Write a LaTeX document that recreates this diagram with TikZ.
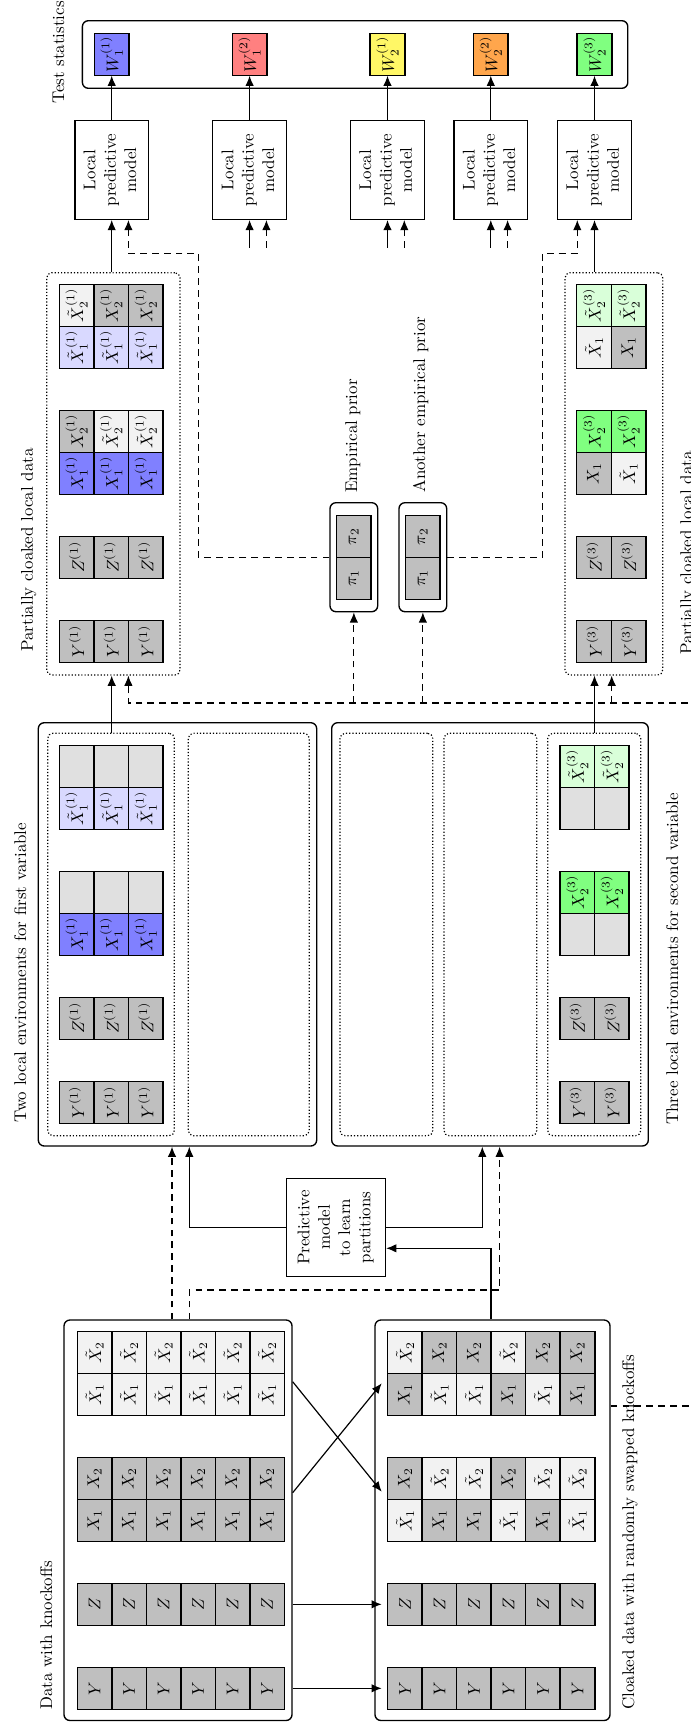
\documentclass[tikz,border=0pt]{standalone}
\usepackage{graphicx}
\usetikzlibrary{arrows.meta,fit,calc}
\colorlet{cG}{black!25}
\colorlet{cL}{black!5}
\colorlet{cE}{black!12}
\colorlet{cB}{blue!50}
\colorlet{cLB}{blue!15}
\colorlet{cGr}{green!50}
\colorlet{cLGr}{green!15}
\colorlet{cR}{red!50}
\colorlet{cY}{yellow!60}
\colorlet{cO}{orange!70}
\newcommand{\mycell}[5]{\node[cellbox, fill=#4] (#1) at (#2,#3) {\rotatebox{90}{$#5$}};}
\newcommand{\mkbox}[6]{\path (#3,#4) coordinate (#1-a) (#5,#6) coordinate (#1-b); \node[#2, fit=(#1-a)(#1-b)] (#1) {};}
\tikzset{
  cellbox/.style={draw, line width=0.9pt, inner sep=0pt, outer sep=0pt,
    minimum width=34.6*0.59pt, minimum height=42*0.59pt},
  outerbox/.style={draw, line width=0.8pt, rounded corners=3.5pt, inner sep=0pt},
  dotbox/.style={draw, line width=0.7pt, dash pattern=on 0.7pt off 1.2pt, rounded corners=3pt, inner sep=0pt},
  modelbox/.style={draw, line width=0.8pt, inner sep=0pt,
    minimum width=73.6*0.59pt, minimum height=98.6*0.59pt},
  lbl/.style={rotate=90, anchor=base west, inner sep=0pt},
  arr/.style={line width=0.7pt, -{Latex[length=6pt,width=5pt]}},
  darr/.style={arr, dash pattern=on 4pt off 3pt},
  dln/.style={line width=0.7pt, dash pattern=on 4pt off 3pt},
}
\begin{document}
\begin{tikzpicture}[x=0.59pt,y=-0.59pt]
\useasboundingbox (0,0) rectangle (691,1722);
\clip (0,0) rectangle (691,1722);

% ---------------- Test statistics ----------------
\mkbox{ts}{outerbox}{82.4}{20.7}{627.8}{88.3}
\node[lbl] (lts) at (64,104) {Test statistics};
\mycell{w1}{111.7}{54.7}{cB}{W_1^{(1)}}
\mycell{w2}{249.6}{54.7}{cR}{W_1^{(2)}}
\mycell{w3}{387.5}{54.7}{cY}{W_2^{(1)}}
\mycell{w4}{490.8}{54.7}{cO}{W_2^{(2)}}
\mycell{w5}{594.5}{54.7}{cGr}{W_2^{(3)}}

% ---------------- Local predictive models ----------------
\foreach \i/\x in {1/111.7,2/249.6,3/387.5,4/490.8,5/594.5}{
  \node[modelbox] (m\i) at (\x,170) {\rotatebox{90}{\begin{tabular}{@{}c@{}}Local\\predictive\\model\end{tabular}}};
  \draw[arr] (m\i.north) -- (w\i.south);
}
\foreach \i in {2,3,4}{
  \draw[arr] ($(m\i.south)+(0,28)$) -- (m\i.south);
  \draw[darr] ($(m\i.south)+(16.8,28)$) -- ($(m\i.south)+(16.8,0)$);
}

% ---------------- Partially cloaked local data 1 ----------------
\mkbox{pc1}{dotbox}{46.7}{272.7}{180}{675}
\node[lbl] (lpc1) at (33,652) {Partially cloaked local data};
\foreach \k/\x in {1/76.6,2/111.2,3/145.8}{
  \mycell{pcoY\k}{\x}{641.3}{cG}{Y^{(1)}}
  \mycell{pcoZ\k}{\x}{557.3}{cG}{Z^{(1)}}
  \mycell{pcoA\k}{\x}{473.3}{cB}{X_1^{(1)}}
  \mycell{pcoC\k}{\x}{347.3}{cLB}{\tilde X_1^{(1)}}
}
\mycell{pcoB1}{76.6}{431.3}{cG}{X_2^{(1)}}
\mycell{pcoB2}{111.2}{431.3}{cL}{\tilde X_2^{(1)}}
\mycell{pcoB3}{145.8}{431.3}{cL}{\tilde X_2^{(1)}}
\mycell{pcoD1}{76.6}{305.3}{cL}{\tilde X_2^{(1)}}
\mycell{pcoD2}{111.2}{305.3}{cG}{X_2^{(1)}}
\mycell{pcoD3}{145.8}{305.3}{cG}{X_2^{(1)}}

% ---------------- Partially cloaked local data 3 ----------------
\mkbox{pc3}{dotbox}{565}{272.7}{662.7}{675}
\node[lbl] (lpc3) at (692,655) {Partially cloaked local data};
\foreach \k/\x in {1/594,2/628.6}{
  \mycell{pctY\k}{\x}{641.3}{cG}{Y^{(3)}}
  \mycell{pctZ\k}{\x}{557.3}{cG}{Z^{(3)}}
  \mycell{pctB\k}{\x}{431.3}{cGr}{X_2^{(3)}}
  \mycell{pctD\k}{\x}{305.3}{cLGr}{\tilde X_2^{(3)}}
}
\mycell{pctA1}{594}{473.3}{cG}{X_1}
\mycell{pctA2}{628.6}{473.3}{cL}{\tilde X_1}
\mycell{pctC1}{594}{347.3}{cL}{\tilde X_1}
\mycell{pctC2}{628.6}{347.3}{cG}{X_1}

% ---------------- Empirical priors ----------------
\mkbox{pr1}{outerbox}{330}{502.7}{377.7}{611.7}
\mycell{pra1}{353.8}{578.3}{cG}{\pi_1}
\mycell{pra2}{353.8}{536.7}{cG}{\pi_2}
\node[lbl] (lep) at (357,493) {Empirical prior};
\mkbox{pr2}{outerbox}{399}{502.7}{446.7}{611.7}
\mycell{prb1}{422.8}{578.3}{cG}{\pi_1}
\mycell{prb2}{422.8}{536.7}{cG}{\pi_2}
\node[lbl] (laep) at (425,493) {Another empirical prior};

% ---------------- Two local environments ----------------
\mkbox{env1}{outerbox}{38.3}{722.7}{316.7}{1146}
\mkbox{e1a}{dotbox}{47.7}{733.3}{174.3}{1135.7}
\mkbox{e1b}{dotbox}{188.3}{733.3}{309.3}{1135.7}
\node[lbl] (le1) at (26,1123) {Two local environments for first variable};
\foreach \k/\x in {1/76.6,2/111.2,3/145.8}{
  \mycell{eoY\k}{\x}{1102.3}{cG}{Y^{(1)}}
  \mycell{eoZ\k}{\x}{1018.3}{cG}{Z^{(1)}}
  \mycell{eoA\k}{\x}{934.3}{cB}{X_1^{(1)}}
  \mycell{eoB\k}{\x}{892.3}{cE}{}
  \mycell{eoC\k}{\x}{808.3}{cLB}{\tilde X_1^{(1)}}
  \mycell{eoD\k}{\x}{766.3}{cE}{}
}

% ---------------- Three local environments ----------------
\mkbox{env3}{outerbox}{331.7}{722.7}{648.3}{1146}
\mkbox{e3a}{dotbox}{340}{733.3}{432.7}{1135.7}
\mkbox{e3b}{dotbox}{444}{733.3}{536.7}{1135.7}
\mkbox{e3c}{dotbox}{547.7}{733.3}{640.7}{1135.7}
\node[lbl] (le3) at (678,1125) {Three local environments for second variable};
\foreach \k/\x in {1/577.3,2/611.9}{
  \mycell{etY\k}{\x}{1102.3}{cG}{Y^{(3)}}
  \mycell{etZ\k}{\x}{1018.3}{cG}{Z^{(3)}}
  \mycell{etA\k}{\x}{934.3}{cE}{}
  \mycell{etB\k}{\x}{892.3}{cGr}{X_2^{(3)}}
  \mycell{etC\k}{\x}{808.3}{cE}{}
  \mycell{etD\k}{\x}{766.3}{cLGr}{\tilde X_2^{(3)}}
}

% ---------------- Predictive model ----------------
\node[draw, line width=0.8pt, inner sep=0pt, minimum width=99.2*0.59pt, minimum height=98.4*0.59pt]
  (pred) at (335.9,1227.5) {\rotatebox{90}{\begin{tabular}{@{}c@{}}Predictive\\model\\to learn\\partitions\end{tabular}}};

% ---------------- Data with knockoffs ----------------
\mkbox{dat}{outerbox}{64}{1320}{292}{1720.5}
\node[lbl] (ld) at (52,1710) {Data with knockoffs};
\foreach \k in {0,...,5}{
  \pgfmathsetmacro{\xx}{94.6+34.5*\k}
  \mycell{dY\k}{\xx}{1688.3}{cG}{Y}
  \mycell{dZ\k}{\xx}{1604.3}{cG}{Z}
  \mycell{dA\k}{\xx}{1520.3}{cG}{X_1}
  \mycell{dB\k}{\xx}{1478.3}{cG}{X_2}
  \mycell{dC\k}{\xx}{1394.3}{cL}{\tilde X_1}
  \mycell{dD\k}{\xx}{1352.3}{cL}{\tilde X_2}
}

% ---------------- Cloaked data ----------------
\mkbox{cl}{outerbox}{375}{1320}{610}{1720.5}
\node[lbl] (lc) at (634,1710) {Cloaked data with randomly swapped knockoffs};
\foreach \k in {0,...,5}{
  \pgfmathsetmacro{\xx}{405+34.5*\k}
  \mycell{cY\k}{\xx}{1688.3}{cG}{Y}
  \mycell{cZ\k}{\xx}{1604.3}{cG}{Z}
}
% column 1
\mycell{cD0}{405}{1352.3}{cL}{\tilde X_2}
\mycell{cC0}{405}{1394.3}{cG}{X_1}
\mycell{cB0}{405}{1478.3}{cG}{X_2}
\mycell{cA0}{405}{1520.3}{cL}{\tilde X_1}
% column 2
\mycell{cD1}{439.5}{1352.3}{cG}{X_2}
\mycell{cC1}{439.5}{1394.3}{cL}{\tilde X_1}
\mycell{cB1}{439.5}{1478.3}{cL}{\tilde X_2}
\mycell{cA1}{439.5}{1520.3}{cG}{X_1}
% column 3
\mycell{cD2}{474}{1352.3}{cG}{X_2}
\mycell{cC2}{474}{1394.3}{cL}{\tilde X_1}
\mycell{cB2}{474}{1478.3}{cL}{\tilde X_2}
\mycell{cA2}{474}{1520.3}{cG}{X_1}
% column 4
\mycell{cD3}{508.5}{1352.3}{cL}{\tilde X_2}
\mycell{cC3}{508.5}{1394.3}{cG}{X_1}
\mycell{cB3}{508.5}{1478.3}{cG}{X_2}
\mycell{cA3}{508.5}{1520.3}{cL}{\tilde X_1}
% column 5
\mycell{cD4}{543}{1352.3}{cG}{X_2}
\mycell{cC4}{543}{1394.3}{cL}{\tilde X_1}
\mycell{cB4}{543}{1478.3}{cL}{\tilde X_2}
\mycell{cA4}{543}{1520.3}{cG}{X_1}
% column 6
\mycell{cD5}{577.5}{1352.3}{cG}{X_2}
\mycell{cC5}{577.5}{1394.3}{cG}{X_1}
\mycell{cB5}{577.5}{1478.3}{cL}{\tilde X_2}
\mycell{cA5}{577.5}{1520.3}{cL}{\tilde X_1}

% ---------------- helper coordinates ----------------
\coordinate (x1d) at (128.4,0);
\coordinate (x5d) at (577.3,0);
\coordinate (x3d) at (611.7,0);
\coordinate (xa) at (172,0);
\coordinate (xb) at (189.3,0);
\coordinate (xc) at (482.3,0);
\coordinate (xd) at (499.6,0);
\coordinate (xe) at (491,0);
\coordinate (busR) at (700,703);
\coordinate (busC) at (700,1406);

% ---------------- connectors (top half) ----------------
\draw[arr] (pc1.north -| m1.south) -- (m1.south);
\draw[darr] (pr1.west) -| (198.3,253.3) -| (m1.south -| x1d);
\draw[arr] (pc3.north -| m5.south) -- (m5.south);
\draw[darr] (pr2.east) -| (542.7,253.3) -| (m5.south -| x5d);

\draw[arr] (e1a.north -| m1.south) -- (pc1.south -| m1.south);
\draw[arr] (e3c.north -| m5.south) -- (pc3.south -| m5.south);

\draw[darr] (busR) -| (pc1.south -| x1d);
\draw[darr] (pr1.south |- busR) -- (pr1.south);
\draw[darr] (pr2.south |- busR) -- (pr2.south);
\draw[darr] (x3d |- busR) -- (pc3.south -| x3d);

% ---------------- connectors (bottom half) ----------------
\draw[darr] (dat.north -| xa) -- (env1.south -| xa);
\draw[darr] (dat.north -| xb) |- (499.6,1290) -- (env3.south -| xd);
\draw[arr] (pred.west) -| (env1.south -| xb);
\draw[arr] (pred.east) -| (env3.south -| xc);
\draw[arr] (cl.north -| xe) |- (pred.east |- 0,1248.3);

\draw[arr] (dat.east |- cY0) -- ($(cY0.west)+(-6,0)$);
\draw[arr] (dat.east |- cZ0) -- ($(cZ0.west)+(-6,0)$);
\draw[arr] (dat.east |- 0,1492.7) -- (381.7,1383.3);
\draw[arr] (dat.east |- 0,1381.7) -- (381.7,1491.7);
\draw[dln] (cl.east |- busC) -- (busC);
\end{tikzpicture}
\end{document}
